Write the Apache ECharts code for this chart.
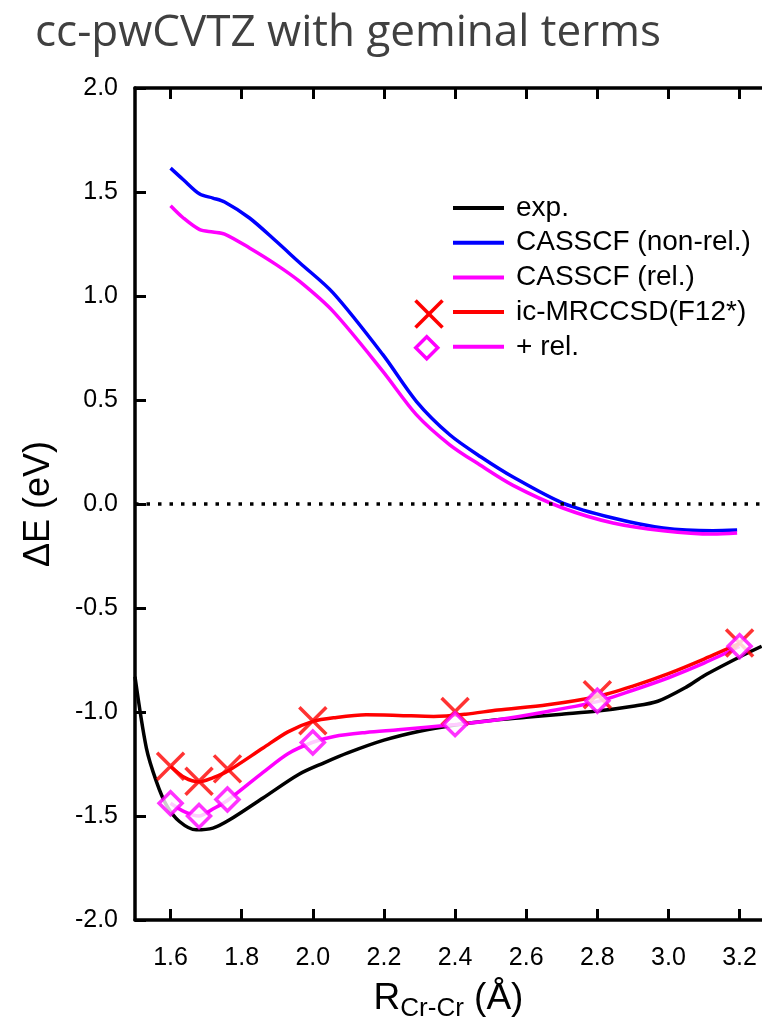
<!DOCTYPE html>
<html>
<head>
<meta charset="utf-8">
<script src="https://cdn.jsdelivr.net/npm/echarts@6/dist/echarts.min.js"></script>
<style>
  html, body { margin: 0; padding: 0; background: #fff; }
  #main { width: 762px; height: 1027px; }
</style>
</head>
<body>
<div id="main"></div>
<script>
// tick positions on R axis
var rTicks = [1.6, 1.8, 2.0, 2.2, 2.4, 2.6, 2.8, 3.0, 3.2];

// exp. curve
var expR = [1.5, 1.532, 1.56, 1.588, 1.625, 1.672, 1.719, 1.766, 1.86, 1.96, 2.03, 2.1, 2.2, 2.3, 2.4, 2.5, 2.6, 2.7, 2.8, 2.9, 2.97, 3.05, 3.1, 3.2, 3.262];
var expE = [-0.83, -1.173, -1.333, -1.446, -1.526, -1.566, -1.558, -1.518, -1.413, -1.3, -1.245, -1.195, -1.135, -1.092, -1.062, -1.04, -1.025, -1.01, -0.995, -0.972, -0.948, -0.88, -0.825, -0.735, -0.684];

// CASSCF (non-rel.)
var casR = [1.6, 1.636, 1.682, 1.719, 1.752, 1.822, 1.897, 1.963, 2.057, 2.197, 2.291, 2.385, 2.474, 2.563, 2.703, 2.844, 2.985, 3.125, 3.193];
var casE = [1.615, 1.559, 1.49, 1.471, 1.452, 1.375, 1.263, 1.16, 1.015, 0.718, 0.494, 0.333, 0.225, 0.13, 0.005, -0.067, -0.115, -0.128, -0.125];

// CASSCF (rel.)
var casRelR = [1.6, 1.636, 1.682, 1.719, 1.752, 1.822, 1.897, 1.963, 2.057, 2.197, 2.291, 2.385, 2.469, 2.563, 2.703, 2.844, 2.985, 3.125, 3.193];
var casRelE = [1.434, 1.375, 1.319, 1.308, 1.298, 1.231, 1.151, 1.07, 0.926, 0.638, 0.43, 0.285, 0.189, 0.09, -0.019, -0.091, -0.128, -0.144, -0.139];

// ic-MRCCSD(F12*) fitted curve + points
var mrR = [1.6, 1.64, 1.68, 1.72, 1.76, 1.86, 1.93, 2.0, 2.06, 2.15, 2.24, 2.34, 2.43, 2.52, 2.66, 2.8, 2.9, 3.0, 3.1, 3.2];
var mrE = [-1.26, -1.315, -1.335, -1.315, -1.285, -1.173, -1.095, -1.045, -1.027, -1.013, -1.016, -1.021, -1.01, -0.99, -0.965, -0.925, -0.875, -0.815, -0.745, -0.67];
var mrPtR = [1.6, 1.68, 1.76, 2.0, 2.4, 2.8, 3.2];
var mrPtE = [-1.26, -1.333, -1.273, -1.042, -0.997, -0.917, -0.668];

// + rel. fitted curve + points
var relR = [1.6, 1.64, 1.68, 1.72, 1.76, 1.86, 1.93, 2.0, 2.06, 2.15, 2.24, 2.4, 2.52, 2.66, 2.8, 2.9, 3.0, 3.1, 3.2];
var relE = [-1.438, -1.48, -1.5, -1.465, -1.425, -1.29, -1.2, -1.145, -1.117, -1.098, -1.085, -1.06, -1.037, -0.997, -0.95, -0.895, -0.835, -0.765, -0.685];
var relPtR = [1.6, 1.68, 1.76, 2.0, 2.4, 2.8, 3.2];
var relPtE = [-1.438, -1.5, -1.42, -1.146, -1.058, -0.946, -0.684];

function zip(xs, ys){
    return xs.map(function(x, i){ return [x, ys[i]]; });
}

var lab_font = 'Liberation Sans, Arial, sans-serif';
var lw = 3.5;

var chartDom = document.getElementById('main');
var myChart = echarts.init(chartDom);

function lineSeries(name, xs, ys, color, z){
    return {
        name: name,
        type: 'line',
        data: zip(xs, ys),
        smooth: 0.3,
        showSymbol: false,
        symbol: 'none',
        lineStyle: {color: color, width: lw},
        itemStyle: {color: color},
        z: z,
        animation: false
    };
}

var series = [
    lineSeries('exp.', expR, expE, '#000000', 2),
    lineSeries('CASSCF (non-rel.)', casR, casE, '#0000ff', 2),
    lineSeries('CASSCF (rel.)', casRelR, casRelE, '#ff00ff', 2),
    lineSeries('ic-MRCCSD(F12*)', mrR, mrE, '#ff0000', 3),
    lineSeries('+ rel.', relR, relE, '#ff00ff', 3),
    {
        name: 'mr_pts',
        type: 'scatter',
        data: zip(mrPtR, mrPtE),
        symbol: 'path://M0,0L10,10M10,0L0,10',
        symbolSize: 27,
        itemStyle: {color: 'transparent', borderColor: '#ff0000', borderWidth: lw},
        z: 4,
        animation: false
    },
    {
        name: 'rel_pts',
        type: 'scatter',
        data: zip(relPtR, relPtE),
        symbol: 'diamond',
        symbolSize: 23,
        itemStyle: {color: '#ffffff', borderColor: '#ff00ff', borderWidth: lw},
        z: 5,
        animation: false
    }
];
// dotted zero line
series[0].markLine = {
    silent: true,
    symbol: ['none', 'none'],
    label: {show: false},
    lineStyle: {color: '#000', width: 3.5, type: [3.5, 8]},
    data: [{yAxis: 0}],
    animation: false
};

var xBase = {
    type: 'value',
    min: 1.5,
    max: 3.263,
    splitLine: {show: false},
    axisLine: {show: true, onZero: false, lineStyle: {color: '#000', width: 3.5}},
    axisTick: {show: true, inside: true, length: 11, customValues: rTicks,
        lineStyle: {color: '#000', width: 3}}
};

var option = {
    backgroundColor: '#ffffff',
    animation: false,
    title: {
        text: 'cc-pwCVTZ with geminal terms',
        left: 30,
        top: 6,
        textStyle: {fontFamily: 'Open Sans', fontSize: 44, fontWeight: 'normal', color: '#404040'}
    },
    grid: {left: 135, right: 0, top: 88, bottom: 103},
    legend: {
        data: ['exp.', 'CASSCF (non-rel.)', 'CASSCF (rel.)', 'ic-MRCCSD(F12*)', '+ rel.'],
        orient: 'vertical',
        left: 453,
        top: 193,
        padding: 0,
        itemGap: 4.7,
        itemWidth: 51,
        itemHeight: 4,
        icon: 'rect',
        selectedMode: false,
        textStyle: {fontFamily: lab_font, fontSize: 28, color: '#000', lineHeight: 30,
            padding: [0, 0, 0, 7]}
    },
    graphic: [
        {
            type: 'group', left: 413, top: 298,
            children: [
                {type: 'line', shape: {x1: 0, y1: 0, x2: 27, y2: 27}, style: {stroke: '#ff0000', lineWidth: lw}},
                {type: 'line', shape: {x1: 27, y1: 0, x2: 0, y2: 27}, style: {stroke: '#ff0000', lineWidth: lw}}
            ]
        },
        {
            type: 'polygon', left: 414, top: 335,
            shape: {points: [[11, 0], [22, 11], [11, 22], [0, 11]]},
            style: {fill: '#fff', stroke: '#ff00ff', lineWidth: lw}
        }
    ],
    xAxis: [
        Object.assign({}, xBase, {
            position: 'bottom',
            name: '{r|R}{s|Cr-Cr}{r| (Å)}',
            nameLocation: 'middle',
            nameGap: 56,
            nameTextStyle: {
                rich: {
                    r: {fontFamily: lab_font, fontSize: 37, lineHeight: 40, color: '#000'},
                    s: {fontFamily: lab_font, fontSize: 26, lineHeight: 18, color: '#000',
                        padding: [20, 0, 0, 0]}
                }
            },
            axisLabel: {
                show: true,
                customValues: rTicks,
                margin: 26,
                fontFamily: lab_font,
                fontSize: 25,
                color: '#000',
                formatter: function(v){ return v.toFixed(1); }
            }
        }),
        Object.assign({}, xBase, {
            position: 'top',
            axisLabel: {show: false}
        })
    ],
    yAxis: {
        type: 'value',
        min: -2,
        max: 2,
        interval: 0.5,
        splitLine: {show: false},
        axisLine: {show: true, onZero: false, lineStyle: {color: '#000', width: 3.5}},
        axisTick: {show: true, inside: true, length: 11, lineStyle: {color: '#000', width: 3}},
        axisLabel: {
            margin: 17,
            fontFamily: lab_font,
            fontSize: 25,
            color: '#000',
            formatter: function(v){ return v.toFixed(1); }
        },
        name: 'ΔE (eV)',
        nameLocation: 'middle',
        nameRotate: 90,
        nameGap: 78,
        nameTextStyle: {fontFamily: lab_font, fontSize: 36, color: '#000'}
    },
    series: series
};

option && myChart.setOption(option);
</script>
</body>
</html>
